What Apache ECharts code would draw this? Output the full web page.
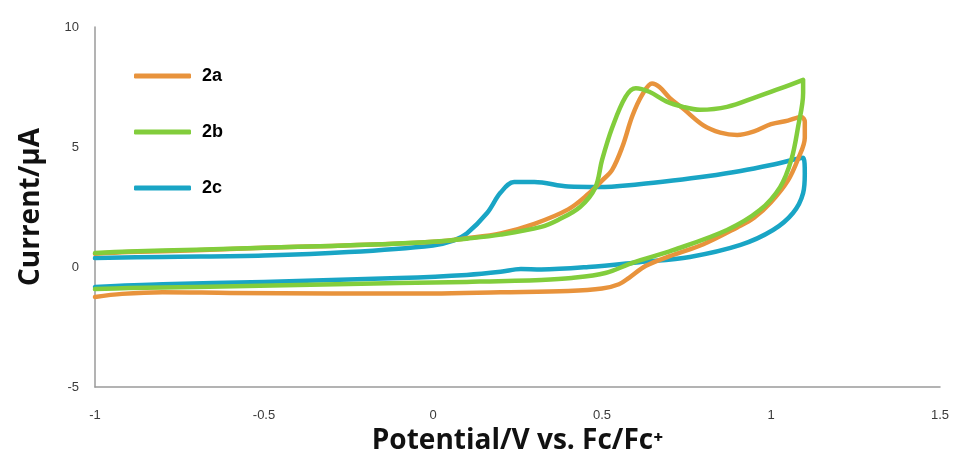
<!DOCTYPE html>
<html>
<head>
<meta charset="utf-8">
<script src="https://cdn.jsdelivr.net/npm/echarts@6/dist/echarts.min.js"></script>
<style>
  html, body { margin: 0; padding: 0; background: #fff; }
  #chart { width: 962px; height: 466px; }
</style>
</head>
<body>
<div id="chart"></div>
<script>
// Cyclic voltammograms: [potential (V vs Fc/Fc+), current (uA)] along each closed scan
const seriesNames = ['2a', '2b', '2c'];
const xTicks = [-1, -0.5, 0, 0.5, 1, 1.5];
const yTicks = [-5, 0, 5, 10];

const cv2a = [
  [-1.00, 0.55], [-0.90, 0.62], [-0.70, 0.70], [-0.50, 0.80], [-0.30, 0.88], [-0.15, 0.95],
  [0.00, 1.05], [0.10, 1.20], [0.20, 1.40], [0.30, 1.80], [0.40, 2.40], [0.46, 3.05],
  [0.50, 3.60], [0.53, 4.05], [0.56, 5.00], [0.59, 6.30], [0.62, 7.20], [0.648, 7.65],
  [0.67, 7.50], [0.70, 7.05], [0.74, 6.60], [0.80, 5.90], [0.85, 5.60], [0.90, 5.50],
  [0.95, 5.65], [1.00, 5.95], [1.05, 6.10], [1.09, 6.25], [1.10, 6.05], [1.10, 5.40],
  [1.08, 4.50], [1.05, 3.60], [1.00, 2.70], [0.95, 2.05], [0.90, 1.65], [0.80, 0.95],
  [0.70, 0.45], [0.63, 0.05], [0.58, -0.45], [0.55, -0.72], [0.50, -0.90], [0.40, -1.00],
  [0.20, -1.05], [0.00, -1.10], [-0.30, -1.10], [-0.60, -1.08], [-0.80, -1.05],
  [-0.92, -1.12], [-1.00, -1.25]
];

const cv2b = [
  [-1.00, 0.58], [-0.90, 0.65], [-0.70, 0.72], [-0.50, 0.80], [-0.30, 0.88], [-0.15, 0.95],
  [0.00, 1.05], [0.10, 1.18], [0.20, 1.35], [0.32, 1.67], [0.37, 1.96], [0.435, 2.50],
  [0.48, 3.30], [0.50, 4.45], [0.53, 5.80], [0.57, 7.10], [0.60, 7.45], [0.64, 7.30],
  [0.69, 6.90], [0.74, 6.67], [0.79, 6.55], [0.87, 6.67], [0.96, 7.10], [1.03, 7.45],
  [1.095, 7.80], [1.095, 7.25], [1.08, 5.83], [1.06, 4.46], [1.027, 3.33], [0.967, 2.37],
  [0.87, 1.54], [0.71, 0.70], [0.59, 0.17], [0.51, -0.25], [0.41, -0.46], [0.32, -0.54],
  [0.10, -0.62], [-0.10, -0.67], [-0.40, -0.75], [-0.70, -0.83], [-0.90, -0.88], [-1.00, -0.92]
];

const cv2c = [
  [-1.00, 0.37], [-0.80, 0.42], [-0.50, 0.48], [-0.25, 0.62], [0.00, 0.90], [0.06, 1.10],
  [0.10, 1.40], [0.16, 2.25], [0.20, 3.10], [0.24, 3.54], [0.30, 3.54], [0.40, 3.35],
  [0.49, 3.33], [0.61, 3.45], [0.71, 3.60], [0.81, 3.78], [0.91, 4.00], [1.00, 4.25],
  [1.095, 4.55], [1.10, 3.90], [1.095, 3.08], [1.065, 2.25], [1.006, 1.54], [0.91, 0.92],
  [0.76, 0.42], [0.61, 0.20], [0.46, 0.00], [0.32, -0.10], [0.26, -0.08], [0.20, -0.20],
  [0.10, -0.33], [-0.10, -0.46], [-0.50, -0.62], [-0.80, -0.72], [-1.00, -0.83]
];

const palette = { '2a': '#e8933c', '2b': '#82cd3c', '2c': '#19a5c5' };
const curves = { '2a': cv2a, '2b': cv2b, '2c': cv2c };
const drawOrder = ['2c', '2a', '2b'];

const chart = echarts.init(document.getElementById('chart'), null, { renderer: 'canvas' });

const tickFont = { fontFamily: 'Liberation Sans, Arial, sans-serif', fontSize: 13, color: '#3a3a3a' };
const titleFont = { fontFamily: 'Open Sans, DejaVu Sans, sans-serif', fontSize: 28, fontWeight: 'bold', color: '#111' };

chart.setOption({
  animation: false,
  grid: { left: 95, right: 22, top: 27, bottom: 79, containLabel: false },
  legend: {
    data: seriesNames,
    orient: 'vertical',
    left: 129,
    top: 61,
    icon: 'roundRect',
    itemWidth: 57,
    itemHeight: 5,
    itemGap: 36,
    textStyle: {
      fontFamily: 'Liberation Sans, Arial, sans-serif',
      fontSize: 18,
      fontWeight: 'bold',
      color: '#000',
      lineHeight: 20,
      padding: [0, 0, 0, 6]
    }
  },
  xAxis: {
    type: 'value',
    min: xTicks[0],
    max: xTicks[xTicks.length - 1],
    interval: 0.5,
    name: 'Potential/V vs. Fc/Fc\u207A',
    nameLocation: 'middle',
    nameGap: 38,
    nameTextStyle: titleFont,
    axisLine: { show: true, onZero: false, lineStyle: { color: '#9a9a9a', width: 1.5 } },
    axisTick: { show: false },
    splitLine: { show: false },
    axisLabel: Object.assign({ margin: 22, formatter: v => String(v) }, tickFont)
  },
  yAxis: {
    type: 'value',
    min: yTicks[0],
    max: yTicks[yTicks.length - 1],
    interval: 5,
    name: 'Current/\u03BCA',
    nameLocation: 'middle',
    nameGap: 50,
    nameTextStyle: titleFont,
    axisLine: { show: true, onZero: false, lineStyle: { color: '#9a9a9a', width: 1.5 } },
    axisTick: { show: false },
    splitLine: { show: false },
    axisLabel: Object.assign({ margin: 16 }, tickFont)
  },
  series: drawOrder.map(name => ({
    name: name,
    type: 'line',
    data: curves[name],
    smooth: 0.35,
    showSymbol: false,
    symbol: 'none',
    color: palette[name],
    lineStyle: { width: 4.5, color: palette[name], cap: 'round', join: 'round' }
  }))
});
</script>
</body>
</html>
